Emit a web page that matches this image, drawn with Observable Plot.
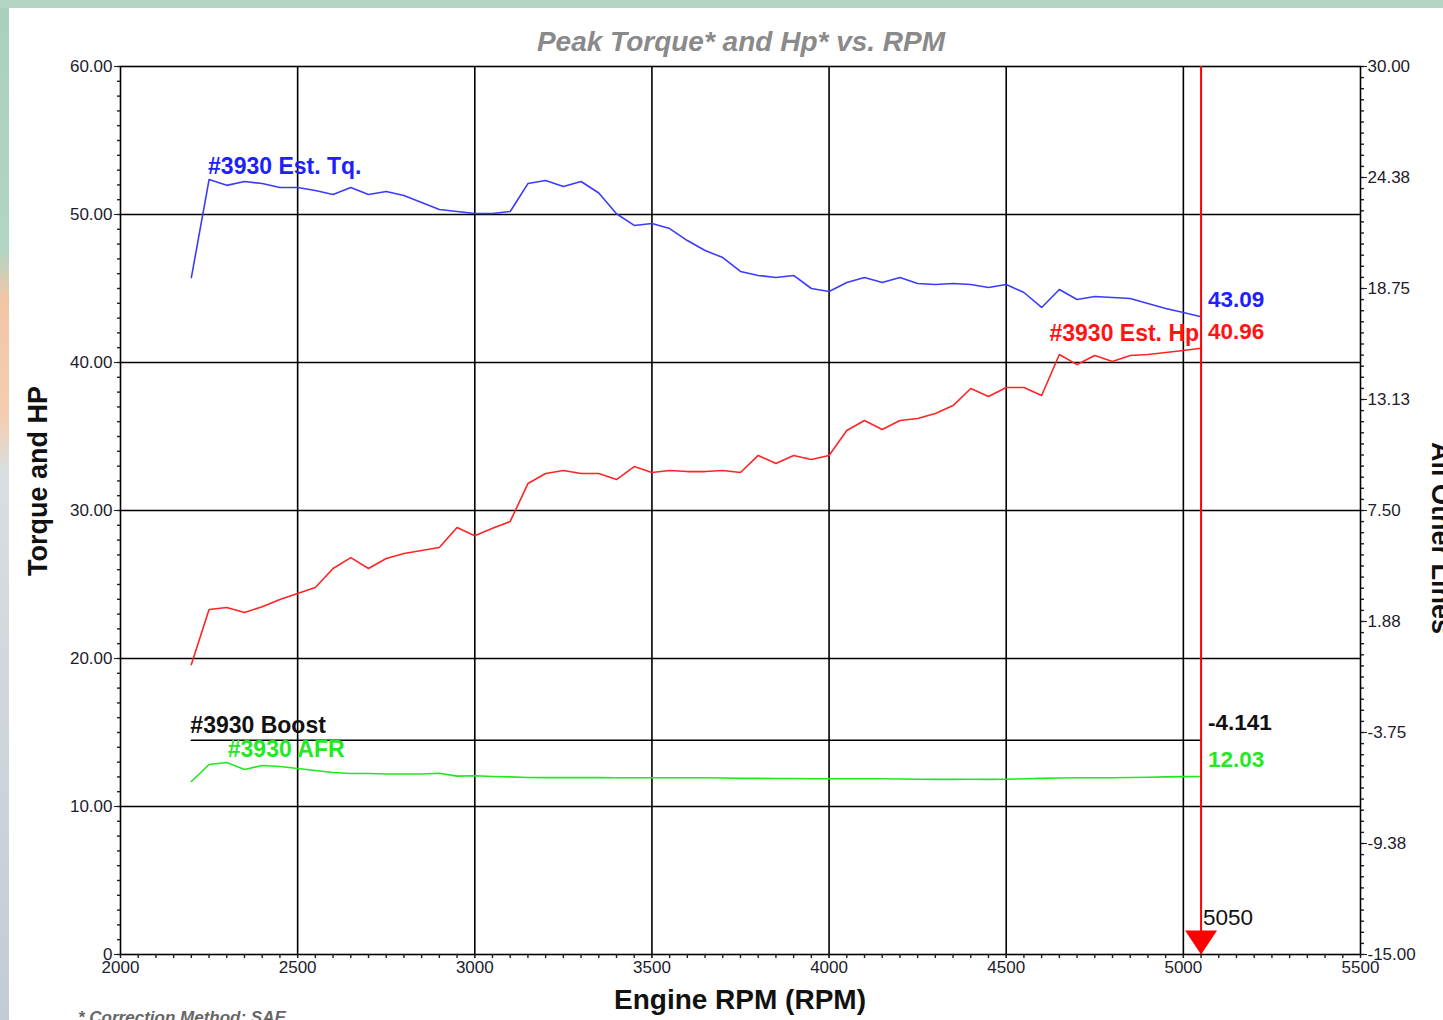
<!DOCTYPE html>
<html>
<head>
<meta charset="utf-8">
<script src="https://cdn.jsdelivr.net/npm/d3@7"></script>
<script src="https://cdn.jsdelivr.net/npm/@observablehq/plot@0.6"></script>
<style>
html, body { margin: 0; padding: 0; width: 1443px; height: 1020px; overflow: hidden; }
body {
  position: relative;
  font-family: "Liberation Sans", Arial, sans-serif;
  background: linear-gradient(to bottom, #a9d0bd 0px, #b2d5c4 250px, #f1c6a5 300px, #f4ceb2 420px, #d9dee0 470px, #c3cbd6 1020px);
}
#topstrip { position: absolute; left: 0; top: 0; width: 1443px; height: 8px; background: #b3d3c3; }
#panel { position: absolute; left: 9px; top: 8px; width: 1434px; height: 1012px; background: #ffffff; }
#chart { position: absolute; left: 0; top: 0; }
.t { position: absolute; white-space: nowrap; line-height: 1; }
#title { left: 741px; top: 42px; transform: translate(-50%, -50%); font-size: 28px; font-weight: bold; font-style: italic; color: #8a8a8a; }
#ylabel { left: 38px; top: 481px; transform: translate(-50%, -50%) rotate(-90deg); font-size: 27px; font-weight: bold; color: #111; }
#y2label { left: 1440px; top: 538px; transform: translate(-50%, -50%) rotate(90deg); font-size: 27px; font-weight: bold; color: #111; }
#xlabel { left: 740px; top: 1000px; transform: translate(-50%, -50%); font-size: 28px; font-weight: bold; color: #111; }
#caption { left: 78px; top: 1009px; font-size: 17px; font-weight: bold; font-style: italic; color: #666; }
</style>
</head>
<body>
<div id="topstrip"></div>
<div id="panel"></div>
<div id="chart"></div>
<div class="t" id="title">Peak Torque* and Hp* vs. RPM</div>
<div class="t" id="ylabel">Torque and HP</div>
<div class="t" id="y2label">All Other Lines</div>
<div class="t" id="xlabel">Engine RPM (RPM)</div>
<div class="t" id="caption">* Correction Method: SAE</div>
<script>
// ---- data ----
const rpm = [2200, 2250, 2300, 2350, 2400, 2450, 2500, 2550, 2600, 2650,
             2700, 2750, 2800, 2850, 2900, 2950, 3000, 3050, 3100, 3150,
             3200, 3250, 3300, 3350, 3400, 3450, 3500, 3550, 3600, 3650,
             3700, 3750, 3800, 3850, 3900, 3950, 4000, 4050, 4100, 4150,
             4200, 4250, 4300, 4350, 4400, 4450, 4500, 4550, 4600, 4650,
             4700, 4750, 4800, 4850, 4900, 4950, 5000, 5050];

const torque = [45.74, 52.36, 51.97, 52.23, 52.09, 51.82, 51.82, 51.62, 51.35, 51.82,
                51.35, 51.55, 51.28, 50.81, 50.34, 50.20, 50.07, 50.07, 50.20, 52.09,
                52.30, 51.89, 52.23, 51.45, 50.05, 49.26, 49.39, 49.05, 48.24, 47.57,
                47.09, 46.15, 45.88, 45.74, 45.88, 45.00, 44.80, 45.40, 45.74, 45.40,
                45.74, 45.34, 45.27, 45.34, 45.27, 45.07, 45.27, 44.73, 43.72, 44.93,
                44.26, 44.46, 44.39, 44.32, 43.99, 43.65, 43.38, 43.09];

const hp = [19.59, 23.31, 23.45, 23.11, 23.50, 23.99, 24.39, 24.80, 26.08, 26.82,
            26.08, 26.76, 27.09, 27.30, 27.50, 28.85, 28.30, 28.80, 29.26, 31.82,
            32.50, 32.70, 32.50, 32.50, 32.09, 32.97, 32.57, 32.70, 32.63, 32.63,
            32.70, 32.57, 33.72, 33.18, 33.72, 33.45, 33.72, 35.41, 36.08, 35.47,
            36.08, 36.22, 36.55, 37.09, 38.24, 37.70, 38.31, 38.31, 37.77, 40.54,
            39.86, 40.47, 40.07, 40.47, 40.54, 40.68, 40.81, 40.96];

const afr = [11.69, 12.84, 12.97, 12.50, 12.77, 12.70, 12.57, 12.43, 12.30, 12.23,
             12.23, 12.20, 12.20, 12.20, 12.25, 12.05, 12.08, 12.03, 12.00, 11.96,
             11.95, 11.95, 11.95, 11.95, 11.94, 11.94, 11.94, 11.94, 11.94, 11.94,
             11.93, 11.90, 11.90, 11.89, 11.89, 11.88, 11.88, 11.88, 11.88, 11.88,
             11.86, 11.84, 11.83, 11.83, 11.84, 11.83, 11.84, 11.87, 11.90, 11.93,
             11.94, 11.94, 11.94, 11.96, 11.98, 12.00, 12.02, 12.03];

const boostRpm = [2200, 5050];
const boost = [-4.141, -4.141];   // right ("All Other Lines") axis units

const cursorRpm = 5050;

const seriesNames = {tq: "#3930 Est. Tq.", hp: "#3930 Est. Hp", boost: "#3930 Boost", afr: "#3930 AFR"};

const xTicks = [2000, 2500, 3000, 3500, 4000, 4500, 5000, 5500];
const xGrid = [2500, 3000, 3500, 4000, 4500, 5000];
const yTicks = [0, 10, 20, 30, 40, 50, 60];
const yTickLabels = ["0", "10.00", "20.00", "30.00", "40.00", "50.00", "60.00"];
const yGrid = [10, 20, 30, 40, 50];
const rightTicks = [-15, -9.375, -3.75, 1.875, 7.5, 13.125, 18.75, 24.375, 30];
const rightTickLabels = ["-15.00", "-9.38", "-3.75", "1.88", "7.50", "13.13", "18.75", "24.38", "30.00"];
const rightDomain = [-15, 30];
const leftDomain = [0, 60];

// ---- helpers ----
const toLeft = v => leftDomain[0] + (v - rightDomain[0]) * (leftDomain[1] - leftDomain[0]) / (rightDomain[1] - rightDomain[0]);
const rows = rpm.map((r, i) => ({rpm: r, tq: torque[i], hp: hp[i], afr: afr[i]}));
const boostRows = boostRpm.map((r, i) => ({rpm: r, boost: boost[i]}));
const yLabelMap = new Map(yTicks.map((d, i) => [d, yTickLabels[i]]));
const rLabelMap = new Map(rightTicks.map((d, i) => [toLeft(d), rightTickLabels[i]]));
const xMinor = d3.range(2000, 5500 + 1, 50);
const yMinor = d3.range(0, 60 + 0.001, 1);
const rMinor = d3.range(0, 60 + 0.001, 0.75);
const last = rows.length - 1;

const BLUE = "#3b3bff", RED = "#ff2424", GREEN = "#1fe81f", BLACK = "#000000";
const TXT_BLUE = "#2020ff", TXT_RED = "#ff1414", TXT_GREEN = "#22ea22", TXT_BLACK = "#111111";

const downTriangle = {
  draw(ctx) {
    ctx.moveTo(-16, -24);
    ctx.lineTo(16, -24);
    ctx.lineTo(0, 0);
    ctx.closePath();
  }
};

const lab = {fontSize: 23, fontWeight: "bold", fontFamily: "Liberation Sans, Arial, sans-serif"};
const num = {fontSize: 22.5, fontWeight: "bold", fontFamily: "Liberation Sans, Arial, sans-serif"};

const chart = Plot.plot({
  width: 1443,
  height: 1020,
  marginLeft: 120,
  marginRight: 83,
  marginTop: 66,
  marginBottom: 66,
  style: {background: "transparent", fontFamily: "Liberation Sans, Arial, sans-serif", fontSize: "17px", color: "#1c1c2c", overflow: "visible"},
  x: {domain: [2000, 5500], label: null},
  y: {domain: leftDomain, label: null},
  marks: [
    Plot.gridX(xGrid, {stroke: BLACK, strokeOpacity: 1, strokeWidth: 1.6}),
    Plot.gridY(yGrid, {stroke: BLACK, strokeOpacity: 1, strokeWidth: 1.6}),
    Plot.frame({stroke: BLACK, strokeWidth: 1.6}),

    // bottom axis
    Plot.axisX(xMinor, {anchor: "bottom", tickSize: 4, text: null, label: null, strokeWidth: 1.4}),
    Plot.axisX(xTicks, {anchor: "bottom", tickSize: 4, tickPadding: 2, tickFormat: d => String(d), label: null, fontSize: 17}),

    // left axis
    Plot.axisY(yMinor, {anchor: "left", tickSize: 3, text: null, label: null, strokeWidth: 1.4}),
    Plot.axisY(yTicks, {anchor: "left", tickSize: 6, tickPadding: 2, tickFormat: d => yLabelMap.get(d), label: null, fontSize: 17}),

    // right axis
    Plot.axisY(rMinor, {anchor: "right", tickSize: 3, text: null, label: null, strokeWidth: 1.4}),
    Plot.axisY(rightTicks.map(toLeft), {anchor: "right", tickSize: 6, tickPadding: 1, tickFormat: d => rLabelMap.get(d), label: null, fontSize: 17}),

    // series
    Plot.lineY(boostRows, {x: "rpm", y: d => toLeft(d.boost), stroke: BLACK, strokeWidth: 1.6}),
    Plot.lineY(rows, {x: "rpm", y: "afr", stroke: GREEN, strokeWidth: 1.6}),
    Plot.lineY(rows, {x: "rpm", y: "hp", stroke: RED, strokeWidth: 1.6}),
    Plot.lineY(rows, {x: "rpm", y: "tq", stroke: BLUE, strokeWidth: 1.6}),

    // cursor
    Plot.ruleX([cursorRpm], {stroke: "#ff0000", strokeWidth: 2}),
    Plot.dot([cursorRpm], {x: d => d, y: () => leftDomain[0], symbol: downTriangle, r: 10, fill: "#ff0000", stroke: "none"}),
    Plot.text([cursorRpm], {x: d => d, y: () => leftDomain[0], text: d => String(d), dx: 2, dy: -37, textAnchor: "start", fill: TXT_BLACK, ...num, fontWeight: "normal"}),

    // series names
    Plot.text([rows[1]], {x: "rpm", y: "tq", text: () => seriesNames.tq, dx: -1, dy: -13, textAnchor: "start", fill: TXT_BLUE, ...lab}),
    Plot.text([rows[last]], {x: "rpm", y: "hp", text: () => seriesNames.hp, dx: -2, dy: -15, textAnchor: "end", fill: TXT_RED, ...lab}),
    Plot.text([boostRows[0]], {x: "rpm", y: d => toLeft(d.boost), text: () => seriesNames.boost, dx: -1, dy: -15, textAnchor: "start", fill: TXT_BLACK, ...lab}),
    Plot.text([rows[2]], {x: "rpm", y: "afr", text: () => seriesNames.afr, dx: 1, dy: -13, textAnchor: "start", fill: TXT_GREEN, ...lab}),

    // cursor values
    Plot.text([rows[last]], {x: "rpm", y: "tq", text: d => d.tq.toFixed(2), dx: 7, dy: -17, textAnchor: "start", fill: TXT_BLUE, ...num}),
    Plot.text([rows[last]], {x: "rpm", y: "hp", text: d => d.hp.toFixed(2), dx: 7, dy: -16, textAnchor: "start", fill: TXT_RED, ...num}),
    Plot.text([boostRows[boostRows.length - 1]], {x: "rpm", y: d => toLeft(d.boost), text: d => d.boost.toFixed(3), dx: 7, dy: -17, textAnchor: "start", fill: TXT_BLACK, ...num}),
    Plot.text([rows[last]], {x: "rpm", y: "afr", text: d => d.afr.toFixed(2), dx: 7, dy: -17, textAnchor: "start", fill: TXT_GREEN, ...num})
  ]
});
document.getElementById("chart").appendChild(chart);
</script>
</body>
</html>
